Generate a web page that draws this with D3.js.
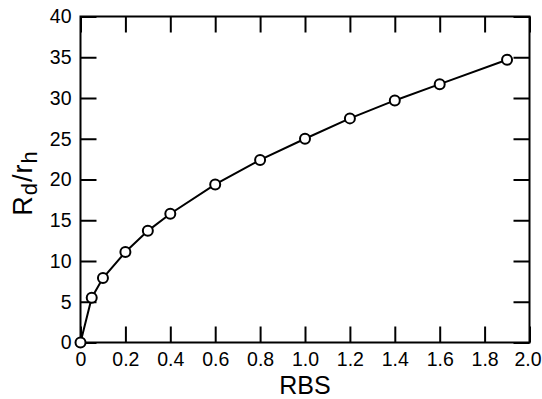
<!DOCTYPE html>
<html>
<head>
<meta charset="utf-8">
<style>
    body { margin: 0; background: #fff; }
    svg text { font-family: "Liberation Sans", Arial, sans-serif; fill: #000; }
</style>
</head>
<body>
<svg id="chart" width="542" height="399"></svg>
<script src="https://cdn.jsdelivr.net/npm/d3@7"></script>
<script>
    // data
    const rbs = [0, 0.05, 0.1, 0.2, 0.3, 0.4, 0.6, 0.8, 1.0, 1.2, 1.4, 1.6, 1.9]
    const ratio = [0, 5.5, 7.9, 11.1, 13.7, 15.8, 19.4, 22.4, 25.0, 27.5, 29.7, 31.7, 34.7]
    const xTicks = [0, 0.2, 0.4, 0.6, 0.8, 1.0, 1.2, 1.4, 1.6, 1.8, 2.0]
    const yTicks = [0, 5, 10, 15, 20, 25, 30, 35, 40]

    let svg = d3.select("#chart")
    // plot edges (window.top is taken, hence the names)
    let plotL = 80.5, plotR = 529.5, plotT = 16.5, plotB = 342.5

    let x = d3.scaleLinear().domain([0, 2]).range([plotL, plotR])
    let y = d3.scaleLinear().domain([0, 40]).range([plotB, plotT])

    // frame
    svg.append("rect")
        .attr("x", plotL).attr("y", plotT)
        .attr("width", plotR - plotL).attr("height", plotB - plotT)
        .attr("fill", "none").attr("stroke", "#000").attr("stroke-width", 2)

    // axes, ticks pointing inward
    let xAxis = d3.axisBottom(x).tickValues(xTicks).tickSize(-16).tickPadding(10)
        .tickFormat(d => d === 0 ? "0" : d3.format(".1f")(d))
    let xg = svg.append("g").attr("transform", `translate(0,${plotB})`).call(xAxis)
    // last label sits at the page edge, pull it in a little so it is not clipped
    xg.selectAll(".tick text").filter(d => d === 2).attr("dx", -2)
    svg.append("g").attr("transform", `translate(0,${plotT})`)
        .call(d3.axisTop(x).tickValues(xTicks).tickSize(-16).tickFormat(""))

    let yAxis = d3.axisLeft(y).tickValues(yTicks).tickSize(-16).tickPadding(9)
    svg.append("g").attr("transform", `translate(${plotL},0)`).call(yAxis)
    svg.append("g").attr("transform", `translate(${plotR},0)`)
        .call(d3.axisRight(y).tickValues(yTicks).tickSize(-16).tickFormat(""))

    svg.selectAll(".domain").remove()
    svg.selectAll(".tick line").attr("stroke", "#000").attr("stroke-width", 2)
    svg.selectAll(".tick text").attr("font-size", 19.5)
        .style("font-family", "'Liberation Sans', Arial, sans-serif")

    // line and markers
    let pts = rbs.map((d, i) => [d, ratio[i]])
    svg.append("path")
        .datum(pts)
        .attr("fill", "none").attr("stroke", "#000").attr("stroke-width", 2)
        .attr("d", d3.line().x(d => x(d[0])).y(d => y(d[1])))

    svg.selectAll("circle")
        .data(pts)
        .enter().append("circle")
        .attr("cx", d => x(d[0])).attr("cy", d => y(d[1]))
        .attr("r", 5)
        .attr("fill", "#fff").attr("stroke", "#000").attr("stroke-width", 2)

    // axis titles
    svg.append("text")
        .attr("x", (plotL + plotR) / 2).attr("y", 394)
        .attr("text-anchor", "middle").attr("font-size", 25)
        .text("RBS")

    let yl = svg.append("text")
        .attr("transform", "translate(32,183) rotate(-90)")
        .attr("text-anchor", "middle").attr("font-size", 27)
        .attr("letter-spacing", 1)
    yl.append("tspan").text("R")
    yl.append("tspan").attr("font-size", 22).attr("dy", 5).text("d")
    yl.append("tspan").attr("dy", -5).text("/r")
    yl.append("tspan").attr("font-size", 22).attr("dy", 5).text("h")
</script>
</body>
</html>
